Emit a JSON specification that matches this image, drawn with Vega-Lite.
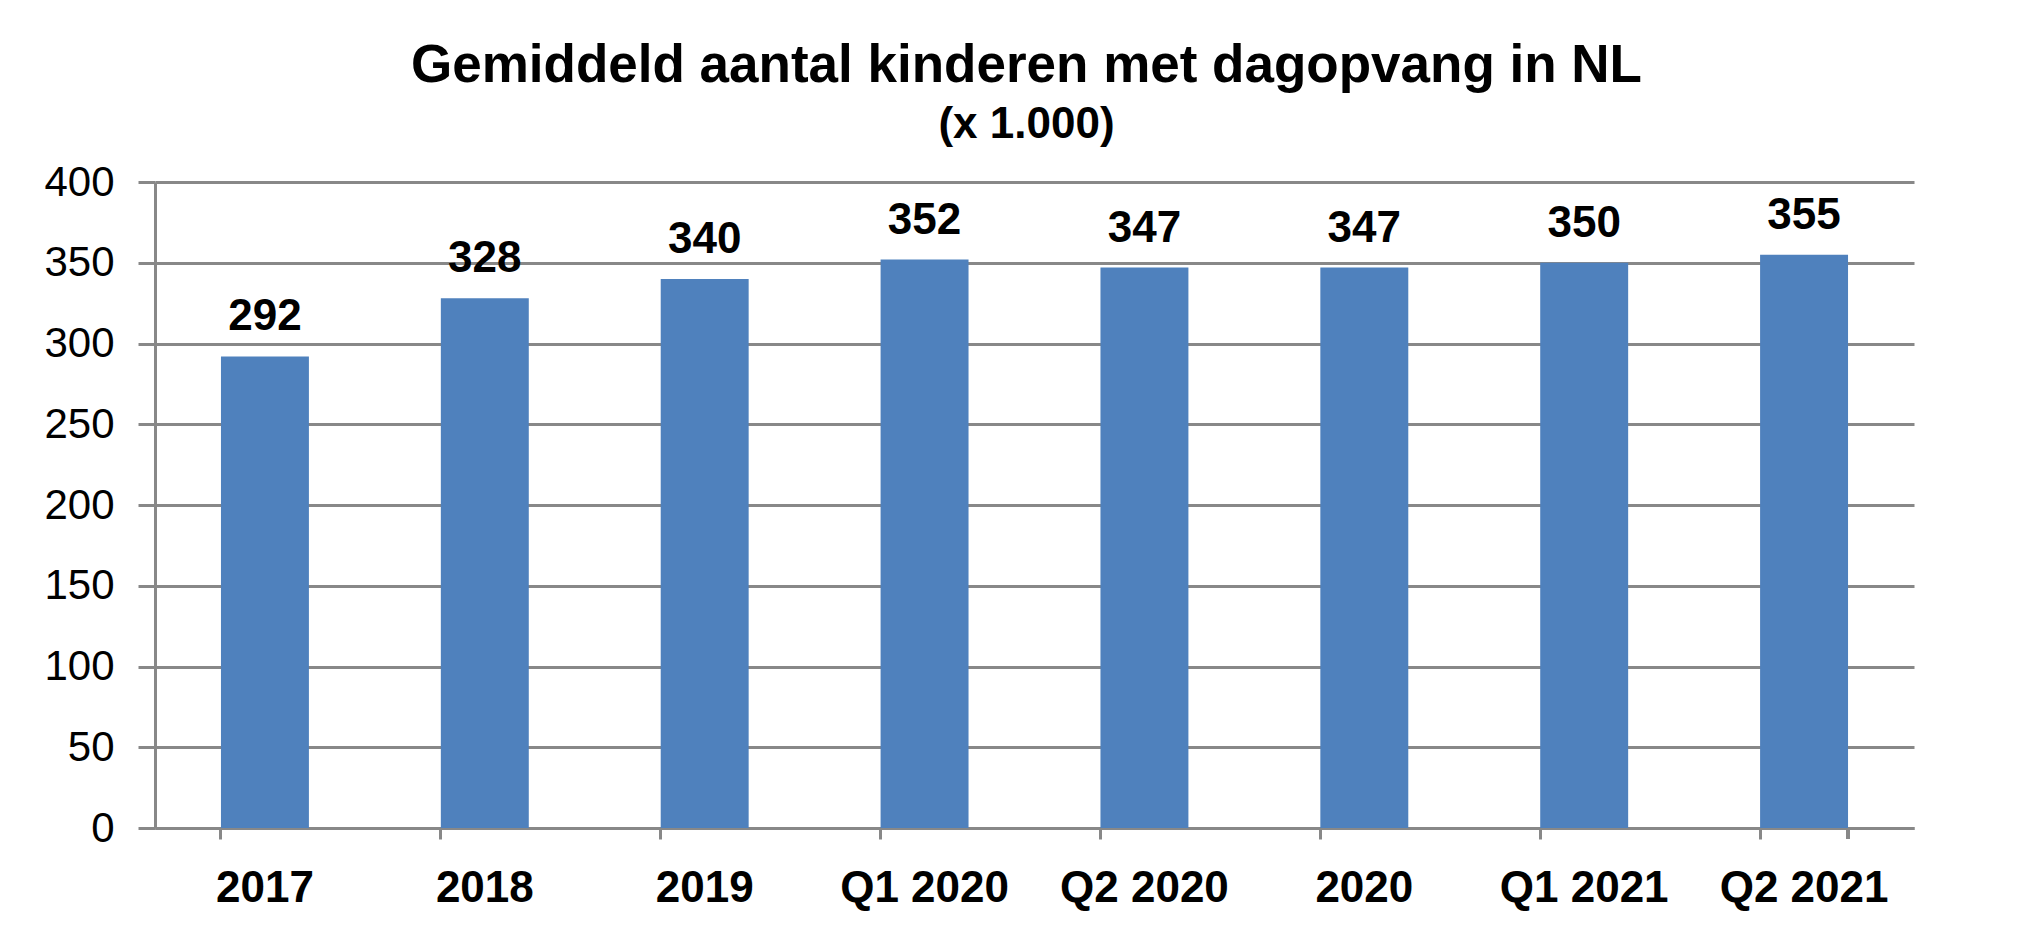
{
  "$schema": "https://vega.github.io/schema/vega-lite/v6.json",
  "width": 1759,
  "height": 646,
  "autosize": "none",
  "padding": {"left": 155, "top": 182, "right": 113, "bottom": 103},
  "background": "white",
  "title": {
    "text": "Gemiddeld aantal kinderen met dagopvang in NL",
    "subtitle": "(x 1.000)",
    "anchor": "middle",
    "frame": "group",
    "font": "Liberation Sans",
    "fontSize": 53,
    "fontWeight": "bold",
    "color": "black",
    "subtitleFont": "Liberation Sans",
    "subtitleFontSize": 44,
    "subtitleFontWeight": "bold",
    "subtitleColor": "black",
    "subtitlePadding": 10,
    "offset": 14,
    "dx": -8
  },
  "data": {
    "values": [
      {"periode": "2017", "aantal": 292},
      {"periode": "2018", "aantal": 328},
      {"periode": "2019", "aantal": 340},
      {"periode": "Q1 2020", "aantal": 352},
      {"periode": "Q2 2020", "aantal": 347},
      {"periode": "2020", "aantal": 347},
      {"periode": "Q1 2021", "aantal": 350},
      {"periode": "Q2 2021", "aantal": 355}
    ]
  },
  "config": {
    "view": {"stroke": null},
    "axis": {
      "domainColor": "#888888",
      "domainWidth": 3,
      "tickColor": "#888888",
      "tickWidth": 3,
      "gridColor": "#888888",
      "gridWidth": 3,
      "labelFont": "Liberation Sans",
      "labelColor": "black",
      "title": null
    }
  },
  "layer": [
    {
      "mark": {"type": "bar", "color": "#4F81BD"},
      "encoding": {
        "x": {
          "field": "periode",
          "type": "nominal",
          "sort": null,
          "scale": {"paddingInner": 0.6, "paddingOuter": 0.3},
          "axis": {
            "bandPosition": 0,
            "labelAngle": 0,
            "labelFontSize": 44,
            "labelFontWeight": "bold",
            "tickSize": 11,
            "labelPadding": 27,
            "grid": false
          }
        },
        "y": {
          "field": "aantal",
          "type": "quantitative",
          "scale": {"domain": [0, 400]},
          "axis": {
            "values": [0, 50, 100, 150, 200, 250, 300, 350, 400],
            "labelFontSize": 42,
            "tickSize": 17,
            "labelPadding": 24,
            "grid": true
          }
        }
      }
    },
    {
      "mark": {"type": "text", "font": "Liberation Sans", "fontSize": 44, "fontWeight": "bold", "baseline": "alphabetic", "dy": -26, "color": "black"},
      "encoding": {
        "x": {"field": "periode", "type": "nominal", "sort": null},
        "y": {"field": "aantal", "type": "quantitative"},
        "text": {"field": "aantal", "type": "quantitative"}
      }
    },
    {
      "mark": {"type": "rule", "color": "#888888", "strokeWidth": 3, "y2Offset": 11},
      "encoding": {
        "x": {"datum": "Q2 2021", "type": "nominal", "bandPosition": 1},
        "y": {"datum": 0, "type": "quantitative"},
        "y2": {"datum": 0}
      }
    }
  ]
}
